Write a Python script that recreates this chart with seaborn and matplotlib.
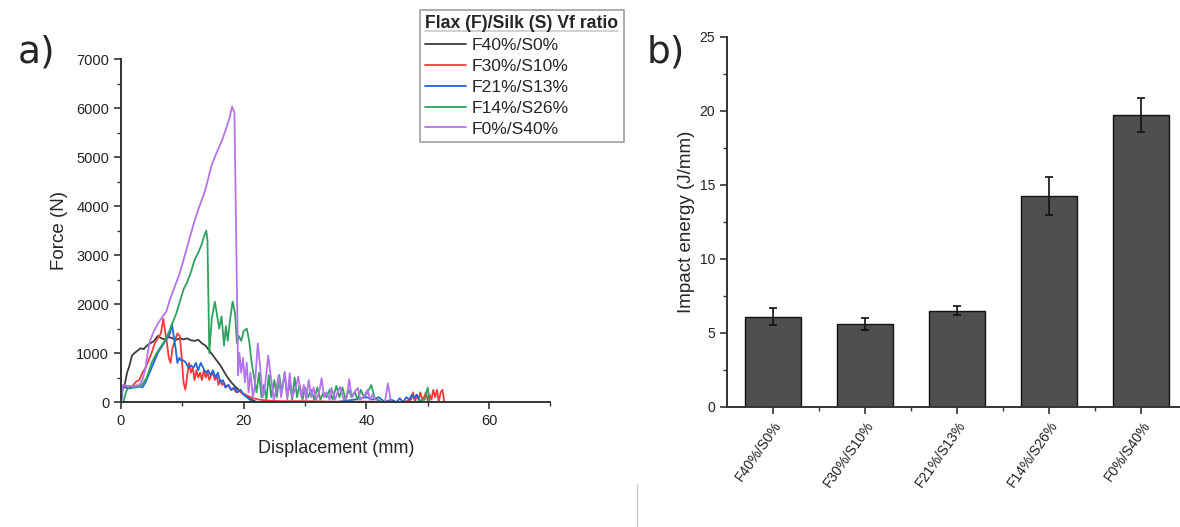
"""Impact test figure: force-displacement curves (a) and impact energy bars (b)."""
import matplotlib
matplotlib.use("Agg")
import matplotlib.pyplot as plt
import numpy as np
import pandas as pd
import seaborn as sns
from matplotlib.lines import Line2D
from matplotlib.ticker import AutoMinorLocator, FixedLocator

# ---------------------------------------------------------------------------
# Data
# ---------------------------------------------------------------------------
SAMPLES = ["F40%/S0%", "F30%/S10%", "F21%/S13%", "F14%/S26%", "F0%/S40%"]
COLORS = ["#3c3c3c", "#f23a3a", "#2266dd", "#2ea25e", "#b474ea"]

disp_f40 = [0, 0.3, 0.6, 1.0, 1.4, 1.8, 2.2, 2.7, 3.2, 3.7, 4.2, 4.8, 5.4, 6, 6.6, 7.2,
            7.8, 8.4, 9, 9.6, 10.2, 10.8, 11.4, 12, 12.6, 13.2, 13.8, 14.4, 15, 15.6,
            16.2, 16.8, 17.4, 18, 18.6, 19.2, 19.8, 20.4, 21, 21.6, 22.2]
force_f40 = [0, 300, 350, 600, 750, 950, 1000, 1050, 1100, 1080, 1150, 1200, 1250, 1350,
             1300, 1280, 1330, 1300, 1270, 1300, 1280, 1300, 1260, 1250, 1270, 1200, 1150,
             1050, 950, 850, 750, 620, 500, 400, 320, 250, 180, 120, 70, 30, 0]

disp_f30 = [0, 0.5, 1, 1.5, 2, 2.5, 3, 3.5, 4, 4.5, 5, 5.5, 6, 6.5, 6.9, 7.2, 7.5, 7.8,
            8.1, 8.4, 8.8, 9.2, 9.6, 9.9, 10.2, 10.5, 10.8, 11.1, 11.4, 11.7, 12.0, 12.3,
            12.6, 12.9, 13.2, 13.5, 13.8, 14.1, 14.4, 14.7, 15.0, 15.3, 15.6, 15.9, 16.2,
            16.5, 16.8, 17.1, 17.5, 17.9, 18.3, 18.8, 19.3, 19.8, 20.3, 20.8, 21.5, 22.5,
            24, 26, 30, 35, 40, 44, 46, 47.3, 47.6, 47.9, 48.2, 48.5, 48.8, 49.1, 49.4,
            49.7, 50.0, 50.3, 50.6, 50.9, 51.2, 51.5, 51.8, 52.1, 52.4, 52.7]
force_f30 = [300, 320, 280, 300, 350, 420, 450, 600, 700, 850, 1000, 1200, 1300, 1400,
             1700, 1450, 1200, 900, 800, 1100, 1250, 1400, 1350, 900, 400, 250, 550, 800,
             600, 700, 450, 650, 500, 600, 450, 650, 500, 600, 450, 550, 600, 450, 550, 350,
             450, 350, 400, 300, 350, 250, 280, 200, 230, 180, 150, 120, 80, 50, 30, 20, 20,
             10, 10, 0, 0, 50, 200, 0, 150, 50, 200, 50, 100, 200, 30, 150, 50, 250, 100,
             250, 0, 200, 250, 0]

disp_f21 = [0, 0.3, 0.8, 1.5, 2, 2.5, 3, 3.5, 4, 4.5, 5, 5.5, 6, 6.5, 7, 7.5, 8, 8.3, 8.6,
            8.9, 9.2, 9.5, 9.8, 10.2, 10.6, 11, 11.4, 11.8, 12.2, 12.6, 13, 13.4, 13.8,
            14.2, 14.6, 15, 15.4, 15.8, 16.2, 16.6, 17, 17.5, 18, 18.5, 19, 19.5, 20, 20.5,
            21, 21.5, 23, 26, 30, 35, 38, 40, 41, 42, 43, 44, 45, 45.4, 46, 46.5, 47, 47.4,
            47.8, 48.2, 48.6, 49]
force_f21 = [0, 300, 300, 280, 300, 300, 320, 300, 400, 550, 700, 850, 1000, 1100, 1200,
             1300, 1400, 1600, 1350, 1100, 800, 900, 850, 850, 800, 700, 750, 700, 800, 650,
             800, 700, 600, 650, 550, 650, 500, 600, 400, 450, 300, 350, 250, 300, 200, 250,
             150, 100, 50, 0, 0, 0, 0, 0, 50, 100, 50, 100, 0, 50, 0, 80, 0, 100, 50, 150,
             80, 150, 50, 0]

disp_f14 = [0, 0.4, 0.8, 1.2, 2, 3, 3.6, 4.2, 5, 5.8, 6.6, 7.4, 8.2, 9, 9.6, 10.2, 10.8,
            11.4, 12, 12.6, 13.1, 13.6, 13.9, 14.1, 14.4, 14.8, 15.3, 15.7, 16.0, 16.4,
            16.8, 17.1, 17.4, 17.8, 18.2, 18.6, 18.9, 19.2, 19.6, 20.0, 20.5, 20.9, 21.3,
            21.7, 22.1, 22.5, 22.9, 23.3, 23.7, 24.1, 24.5, 25.0, 25.4, 25.8, 26.2, 26.7,
            27.1, 27.5, 27.9, 28.3, 28.7, 29.1, 29.6, 30.0, 30.5, 31.0, 31.5, 32.0, 32.5,
            33.0, 33.5, 34.0, 34.5, 35.1, 35.6, 36.1, 36.6, 37.1, 37.6, 38.1, 38.6, 39.1,
            39.6, 40.2, 40.8, 41.3, 41.8, 42.5, 44, 46, 48, 49.5, 50.0, 50.3, 50.6, 51]
force_f14 = [0, 0, 200, 300, 300, 320, 380, 500, 800, 1000, 1150, 1300, 1550, 1800, 2050,
             2300, 2450, 2650, 2900, 3050, 3200, 3400, 3500, 3300, 1000, 1700, 2050, 1750,
             1500, 1750, 1150, 1550, 1250, 1700, 2050, 1800, 1200, 1350, 1250, 1450, 1500,
             1250, 800, 500, 200, 600, 100, 350, 50, 550, 100, 450, 100, 550, 200, 600, 100,
             400, 50, 500, 100, 350, 50, 300, 100, 250, 50, 300, 50, 200, 100, 250, 50, 330,
             100, 300, 50, 250, 100, 200, 50, 250, 100, 200, 350, 100, 50, 0, 0, 0, 0, 50,
             300, 0, 0, 0]

disp_f0 = [0, 0.3, 1, 2, 3, 3.5, 4, 4.6, 5.2, 6, 6.8, 7.4, 8, 8.6, 9.5, 10.2, 11.2, 12,
           12.8, 13.4, 13.9, 14.3, 14.7, 15.3, 15.8, 16.5, 17.2, 17.7, 18.1, 18.5, 18.8,
           19.1, 19.3, 19.6, 19.9, 20.2, 20.5, 20.8, 21.1, 21.5, 21.8, 22.3, 22.7, 23.1,
           23.5, 24.0, 24.5, 24.9, 25.3, 25.7, 26.1, 26.7, 27.1, 27.5, 27.9, 28.5, 28.9,
           29.4, 29.8, 30.2, 30.6, 31.0, 31.4, 31.8, 32.3, 32.7, 33.1, 33.5, 34.0, 34.3,
           34.9, 35.3, 35.7, 36.3, 36.8, 37.2, 37.6, 38.0, 38.6, 39.0, 39.5, 40.2, 40.6,
           41.0, 41.5, 42.0, 42.5, 43.0, 43.5, 44.0, 44.5]
force_f0 = [0, 350, 330, 330, 350, 450, 700, 1200, 1400, 1600, 1750, 1850, 2100, 2300, 2600,
            2900, 3350, 3700, 4000, 4200, 4400, 4600, 4800, 5000, 5150, 5350, 5600, 5800,
            6030, 5900, 3200, 550, 1000, 600, 900, 400, 800, 200, 600, 100, 300, 1200, 700,
            100, 350, 950, 450, 50, 250, 550, 100, 620, 50, 590, 100, 300, 520, 100, 350,
            50, 450, 100, 300, 50, 200, 490, 100, 200, 50, 290, 50, 200, 310, 50, 100, 470,
            100, 200, 290, 50, 100, 250, 50, 150, 50, 0, 0, 0, 380, 0, 0]

DISP = [disp_f40, disp_f30, disp_f21, disp_f14, disp_f0]
FORCE = [force_f40, force_f30, force_f21, force_f14, force_f0]

energy_mean = [6.1, 5.6, 6.5, 14.25, 19.75]
energy_err = [0.6, 0.42, 0.3, 1.3, 1.15]

# ---------------------------------------------------------------------------
# Style
# ---------------------------------------------------------------------------
sns.set_theme(style="ticks")
plt.rcParams["font.family"] = ["Liberation Sans", "DejaVu Sans"]
plt.rcParams.update({
    "axes.edgecolor": "#333333",
    "axes.linewidth": 1.4,
    "xtick.color": "#333333",
    "ytick.color": "#333333",
    "xtick.labelcolor": "#222222",
    "ytick.labelcolor": "#222222",
    "xtick.major.size": 5,
    "ytick.major.size": 5,
    "xtick.minor.size": 3,
    "ytick.minor.size": 3,
    "xtick.major.width": 1.2,
    "ytick.major.width": 1.2,
    "xtick.minor.width": 1.0,
    "ytick.minor.width": 1.0,
})

fig = plt.figure(figsize=(11.8, 5.27), dpi=100)
ax_a = fig.add_axes([0.1025, 0.237, 0.364, 0.651])
ax_b = fig.add_axes([0.616, 0.228, 0.384, 0.702])

# ---------------------------------------------------------------------------
# (a) force-displacement curves
# ---------------------------------------------------------------------------
frames = [pd.DataFrame({"disp": d, "force": f, "sample": s})
          for d, f, s in zip(DISP, FORCE, SAMPLES)]
curves = pd.concat(frames, ignore_index=True)
sns.lineplot(data=curves, x="disp", y="force", hue="sample", hue_order=SAMPLES,
             palette=dict(zip(SAMPLES, COLORS)), estimator=None, sort=False,
             lw=1.3, ax=ax_a, legend=False)
ax_a.set(xlim=(0, 70), ylim=(0, 7000))
ax_a.set_xlabel("Displacement (mm)", fontsize=13, labelpad=9)
ax_a.set_ylabel("Force (N)", fontsize=13.5, labelpad=6)
ax_a.set_xticks([0, 20, 40, 60])
ax_a.set_yticks(range(0, 7001, 1000))
ax_a.xaxis.set_minor_locator(AutoMinorLocator(2))
ax_a.yaxis.set_minor_locator(AutoMinorLocator(2))
ax_a.tick_params(labelsize=10.5)
sns.despine(ax=ax_a)

handles = [Line2D([], [], color=c, lw=1.3) for c in COLORS]
leg = fig.legend(handles, SAMPLES, title="Flax (F)/Silk (S) Vf ratio",
                 loc="upper left", bbox_to_anchor=(0.356, 0.981),
                 bbox_transform=fig.transFigure, frameon=True, fancybox=False,
                 edgecolor="#888888", fontsize=12.6, title_fontsize=12.7,
                 handlelength=2.3, handletextpad=0.35, labelspacing=0.32,
                 borderpad=0.3, borderaxespad=0)
leg.get_title().set_fontweight("bold")
leg._legend_box.align = "left"
leg.get_frame().set_linewidth(1.2)

# ---------------------------------------------------------------------------
# (b) impact energy bars
# ---------------------------------------------------------------------------
sns.barplot(x=SAMPLES, y=energy_mean, color="#4f4f4f", saturation=1, width=0.61,
            edgecolor="#111111", linewidth=1.0, ax=ax_b)
ax_b.errorbar(x=np.arange(len(SAMPLES)), y=energy_mean, yerr=energy_err, fmt="none",
              ecolor="#111111", elinewidth=1.2, capsize=3, capthick=1.2)
ax_b.set(xlim=(-0.5, 4.42), ylim=(0, 25), xlabel="")
ax_b.set_ylabel("Impact energy (J/mm)", fontsize=13.5, labelpad=3)
ax_b.set_yticks(range(0, 26, 5))
ax_b.yaxis.set_minor_locator(AutoMinorLocator(2))
ax_b.xaxis.set_minor_locator(FixedLocator([0.5, 1.5, 2.5, 3.5]))
ax_b.tick_params(labelsize=10)
for lab in ax_b.get_xticklabels():
    lab.set_rotation(55)
    lab.set_ha("right")
    lab.set_rotation_mode("anchor")
sns.despine(ax=ax_b)

# panel letters
fig.text(0.031, 0.90, "a)", fontsize=27, family="DejaVu Sans", ha="center", va="center")
fig.text(0.564, 0.90, "b)", fontsize=27, family="DejaVu Sans", ha="center", va="center")

# faint page border from the source layout
fig.add_artist(Line2D([0.54, 0.54], [0.0, 0.082], transform=fig.transFigure,
                      color="#cfcfcf", lw=1.0))

# underline the legend title
fig.canvas.draw()
tb = leg.get_title().get_window_extent().transformed(fig.transFigure.inverted())
fig.add_artist(Line2D([tb.x0, tb.x1], [tb.y0 + 0.002, tb.y0 + 0.002],
                      transform=fig.transFigure, color="black", lw=1.2))

fig.savefig("out.png", dpi=100)
